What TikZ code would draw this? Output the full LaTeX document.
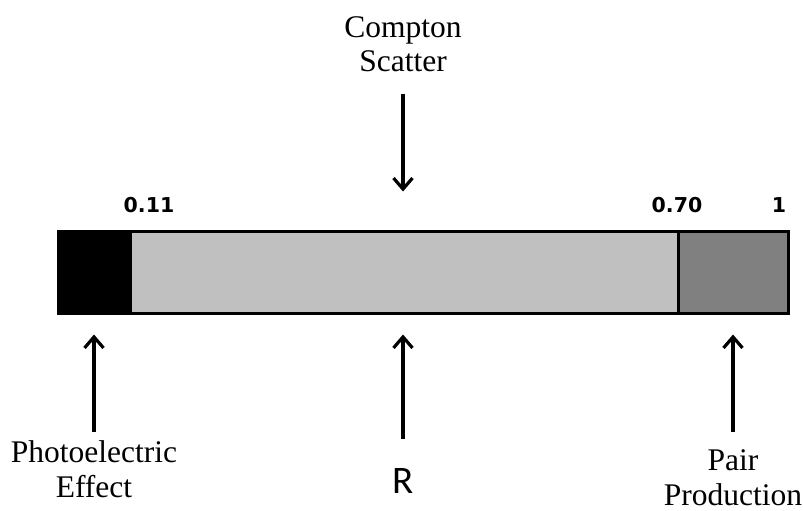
\documentclass[tikz,border=0pt]{standalone}
\usepackage{fontspec}
\setmainfont{Liberation Serif}
\newfontfamily\numfont{DejaVu Sans}
\newfontfamily\labelfont{Carlito}
\usetikzlibrary{arrows.meta}

\tikzset{
  seg/.style={draw=black, line width=3pt, inner sep=0pt, minimum height=82pt},
  arr/.style={line width=3.2pt, -{Straight Barb[length=11pt,width=19pt]}},
  caption/.style={font=\fontsize{31.5}{35}\selectfont, align=center, anchor=base, inner sep=0pt},
  tick/.style={font=\numfont\bfseries\fontsize{20.5}{24}\selectfont, anchor=base, inner sep=0pt},
}

\begin{document}
\begin{tikzpicture}[x=1pt, y=-1pt]
  \useasboundingbox (0,0) rectangle (803,511);

  % the three interval segments of the unit bar
  \node[seg, fill=black, minimum width=72pt] (pe) at (94,272) {};
  \node[seg, fill={rgb,255:red,192;green,192;blue,192}, minimum width=548pt] (cs) at (404,272) {};
  \node[seg, fill={rgb,255:red,128;green,128;blue,128}, minimum width=110pt] (pp) at (733,272) {};

  % boundary values
  \node[tick] (v1) at (149,212) {0.11};
  \node[tick] (v2) at (677,212) {0.70};
  \node[tick] (v3) at (779,212) {1};

  % interaction labels (base anchor = baseline of the last line)
  \node[caption] (lcs) at (403,72) {Compton\\Scatter};
  \node[caption] (lpe) at (94,497) {Photoelectric\\Effect};
  \node[caption] (lpp) at (733,505) {Pair\\Production};
  \node[font=\labelfont\fontsize{39}{44}\selectfont, anchor=base, inner sep=0pt] (r) at (403,493) {R};

  % pointers
  \draw[arr] ([xshift=-1pt,yshift=136pt]cs.north) -- ([xshift=-1pt,yshift=38pt]cs.north);
  \draw[arr] ([yshift=-117pt]pe.south) -- ([yshift=-20pt]pe.south);
  \draw[arr] ([xshift=-1pt,yshift=-124pt]cs.south) -- ([xshift=-1pt,yshift=-20pt]cs.south);
  \draw[arr] ([yshift=-117pt]pp.south) -- ([yshift=-20pt]pp.south);
\end{tikzpicture}
\end{document}
